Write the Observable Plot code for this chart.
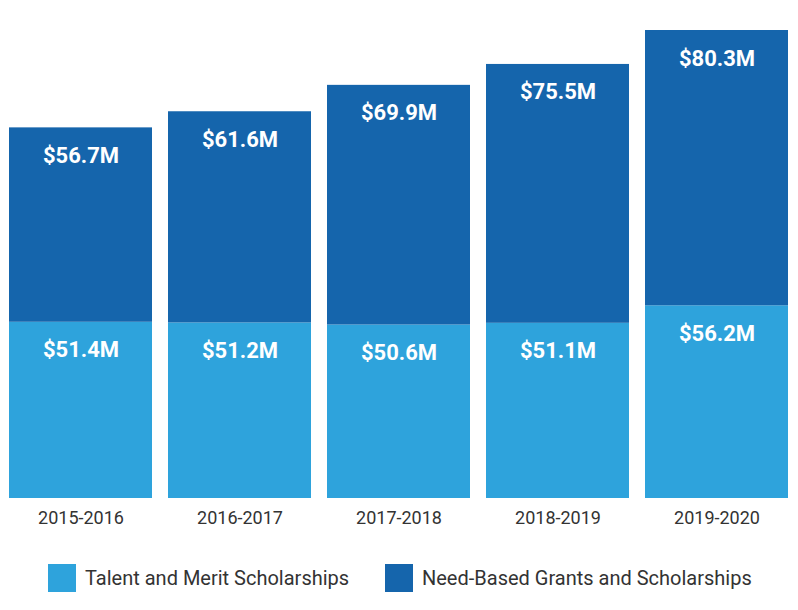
<!DOCTYPE html>
<html>
<head>
<meta charset="utf-8">
<script src="https://cdn.jsdelivr.net/npm/d3@7"></script>
<script src="https://cdn.jsdelivr.net/npm/@observablehq/plot@0.6"></script>
<style>
  html, body { margin: 0; padding: 0; background: #fff; }
  #chart svg { display: block; }
  .legend { display: flex; align-items: center; height: 28px; margin-top: 24px; font-family: Roboto, sans-serif; font-size: 20px; color: #333; }
  .item { display: flex; align-items: center; position: absolute; }
  .sw { width: 28px; height: 28px; margin-right: 9px; }
</style>
</head>
<body>
<div id="chart"></div>
<div class="legend" id="legend"></div>
<script>
const years = ["2015-2016", "2016-2017", "2017-2018", "2018-2019", "2019-2020"];
const seriesNames = ["Talent and Merit Scholarships", "Need-Based Grants and Scholarships"];
const merit = [51.4, 51.2, 50.6, 51.1, 56.2];
const need = [56.7, 61.6, 69.9, 75.5, 80.3];
const colors = ["#2ea3dc", "#1565ac"];

const rows = [];
years.forEach((y, i) => {
  rows.push({year: y, series: seriesNames[0], value: merit[i]});
  rows.push({year: y, series: seriesNames[1], value: need[i]});
});

const chart = Plot.plot({
  width: 798,
  height: 540,
  marginLeft: 0,
  marginRight: 0,
  marginTop: 18,
  marginBottom: 42,
  style: {fontFamily: "Roboto, sans-serif", color: "#333", background: "#fff"},
  x: {domain: years, paddingInner: 0.1, paddingOuter: 0.05, label: null},
  y: {domain: [0, 140], axis: null},
  color: {domain: seriesNames, range: colors},
  marks: [
    Plot.barY(rows, {x: "year", y: "value", fill: "series", z: "series"}),
    Plot.text(rows, Plot.stackY2({
      x: "year", y: "value", z: "series",
      text: d => `$${d.value.toFixed(1)}M`,
      dy: 28, fill: "white", fontWeight: "bold", fontSize: 22, lineAnchor: "middle"
    })),
    Plot.axisX({tickSize: 0, tickPadding: 13, fontSize: 18, fill: "#333"})
  ]
});
document.getElementById("chart").appendChild(chart);

const legend = document.getElementById("legend");
const lx = [48, 385];
seriesNames.forEach((s, i) => {
  const it = document.createElement("div");
  it.className = "item";
  it.style.left = lx[i] + "px";
  const sw = document.createElement("div");
  sw.className = "sw";
  sw.style.background = colors[i];
  const t = document.createElement("span");
  t.textContent = s;
  it.appendChild(sw);
  it.appendChild(t);
  legend.appendChild(it);
});
</script>
</body>
</html>
